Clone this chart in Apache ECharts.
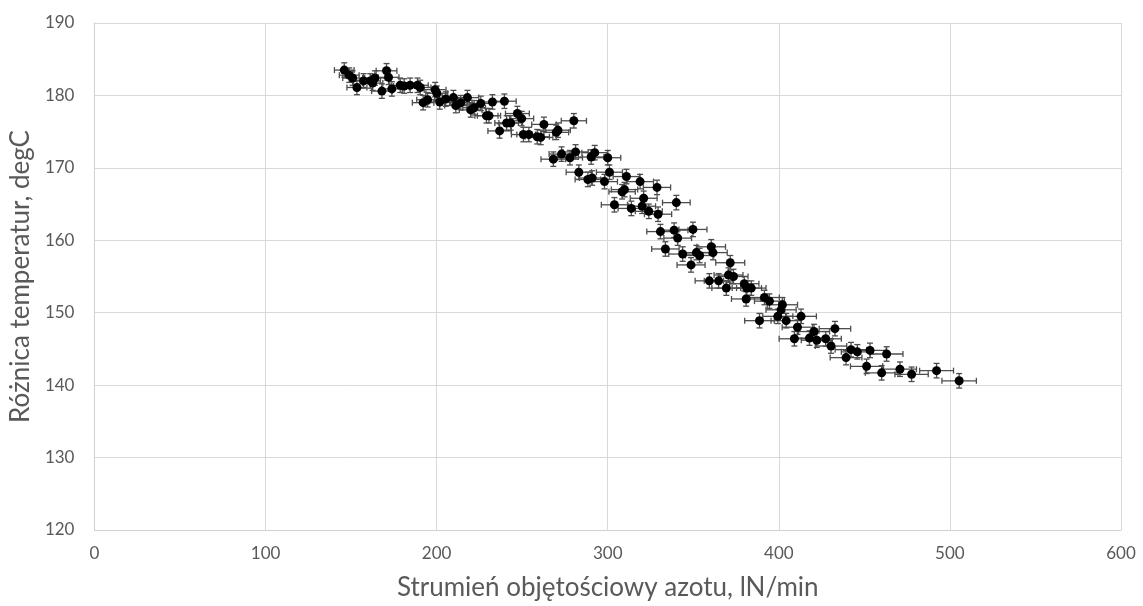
<!DOCTYPE html>
<html>
<head>
<meta charset="utf-8">
<script src="https://cdn.jsdelivr.net/npm/echarts@6/dist/echarts.min.js"></script>
<style>
  html, body { margin: 0; padding: 0; background: #ffffff; }
  #chart { width: 1143px; height: 606px; }
</style>
</head>
<body>
<div id="chart"></div>
<script>
// Nitrogen volumetric flow [lN/min]
const flow = [
  146.0, 148.9, 150.9, 153.4, 157.3, 161.2, 162.6, 163.9, 168.0, 170.7,
  171.9, 173.8, 178.7, 181.0, 184.5, 188.8, 190.4, 199.1, 200.1, 192.1,
  194.7, 201.8, 205.3, 209.8, 211.2, 214.1, 218.0, 219.9, 221.9, 225.8,
  229.1, 230.6, 232.6, 236.8, 239.6, 240.9, 243.3, 247.2, 249.7, 250.7,
  253.9, 258.8, 260.8, 262.7, 269.9, 270.9, 280.2,
  268.2, 273.0, 277.9, 281.2, 290.3, 292.4, 300.0, 283.1, 288.4, 290.9,
  298.1, 301.0, 310.9, 308.4, 309.8, 318.9, 328.8, 321.0, 303.9, 313.8,
  320.1, 324.0, 329.4, 340.1, 330.8, 338.8, 340.9, 349.8, 333.7, 343.8,
  348.7, 351.8, 353.7, 360.5, 361.5, 371.6, 359.4, 364.8, 370.6, 373.5,
  369.3, 379.8, 381.3, 383.9, 380.9, 391.6, 394.5, 402.1, 401.3, 399.4,
  404.3, 413.0, 388.7, 410.9, 420.6, 417.9, 409.1, 422.2, 427.4, 430.5,
  432.8, 442.2, 445.9, 453.3, 439.3, 463.0, 451.3, 460.1, 470.8, 477.6,
  492.2, 505.4
];

// Temperature difference [degC]
const deltaT = [
  183.5, 182.8, 182.4, 181.1, 182.0, 182.0, 181.7, 182.4, 180.6, 183.4,
  182.5, 180.9, 181.4, 181.3, 181.4, 181.4, 181.1, 180.8, 180.3, 179.0,
  179.4, 179.1, 179.5, 179.7, 178.6, 179.0, 179.7, 178.0, 178.3, 178.9,
  177.2, 177.2, 179.1, 175.1, 179.2, 176.2, 176.2, 177.5, 176.8, 174.6,
  174.6, 174.3, 174.2, 176.0, 174.9, 175.2, 176.5,
  171.2, 171.9, 171.4, 172.2, 171.5, 172.1, 171.4, 169.4, 168.4, 168.6,
  168.1, 169.4, 168.8, 166.7, 167.0, 168.1, 167.3, 165.8, 164.9, 164.4,
  164.7, 164.0, 163.6, 165.2, 161.2, 161.4, 160.3, 161.5, 158.8, 158.1,
  156.6, 158.3, 157.9, 159.1, 158.3, 156.9, 154.4, 154.4, 155.2, 155.0,
  153.4, 154.0, 153.4, 153.4, 151.9, 152.1, 151.6, 151.1, 150.4, 149.5,
  148.9, 149.5, 148.9, 148.0, 147.4, 146.5, 146.4, 146.2, 146.4, 145.4,
  147.8, 144.9, 144.6, 144.8, 143.8, 144.3, 142.6, 141.7, 142.2, 141.5,
  142.0, 140.6
];

// Axis ticks
const xTicks = [0, 100, 200, 300, 400, 500, 600];
const yTicks = [120, 130, 140, 150, 160, 170, 180, 190];

// Measurement uncertainty: flow meter (offset + share of reading), thermocouples (fixed)
const flowErrOffset = 4;
const flowErrShare = 0.012;
const tempErr = 1.0;

const points = flow.map((q, i) => [q, deltaT[i]]);
const bars = flow.map((q, i) => [q, deltaT[i], flowErrOffset + flowErrShare * q, tempErr]);

const FONT = 'Lato, "Open Sans", sans-serif';
const TEXT_COLOR = '#595959';
const BAR_COLOR = '#4d4d4d';
const CAP = 3;

function renderErrorBar(params, api) {
  const x = api.value(0), y = api.value(1), ex = api.value(2), ey = api.value(3);
  const left = api.coord([x - ex, y]);
  const right = api.coord([x + ex, y]);
  const top = api.coord([x, y + ey]);
  const bottom = api.coord([x, y - ey]);
  const style = { stroke: BAR_COLOR, lineWidth: 1.3, fill: null };
  const line = (x1, y1, x2, y2) => ({ type: 'line', shape: { x1, y1, x2, y2 }, style });
  return {
    type: 'group',
    children: [
      line(left[0], left[1], right[0], right[1]),
      line(left[0], left[1] - CAP, left[0], left[1] + CAP),
      line(right[0], right[1] - CAP, right[0], right[1] + CAP),
      line(top[0], top[1], bottom[0], bottom[1]),
      line(top[0] - CAP, top[1], top[0] + CAP, top[1]),
      line(bottom[0] - CAP, bottom[1], bottom[0] + CAP, bottom[1])
    ]
  };
}

const chart = echarts.init(document.getElementById('chart'), null, { renderer: 'canvas' });
chart.setOption({
  backgroundColor: '#ffffff',
  animation: false,
  grid: { left: 93, right: 22, top: 23, bottom: 76, containLabel: false },
  xAxis: {
    type: 'value',
    min: xTicks[0],
    max: xTicks[xTicks.length - 1],
    interval: xTicks[1] - xTicks[0],
    name: 'Strumień objętościowy azotu, lN/min',
    nameLocation: 'middle',
    nameGap: 45,
    nameTextStyle: { fontFamily: FONT, fontSize: 26, color: TEXT_COLOR },
    axisLine: { lineStyle: { color: '#d0d0d0', width: 1 } },
    axisTick: { show: false },
    axisLabel: { fontFamily: FONT, fontSize: 17, color: TEXT_COLOR, margin: 15 },
    splitLine: { show: true, lineStyle: { color: '#d9d9d9', width: 1 } }
  },
  yAxis: {
    type: 'value',
    min: yTicks[0],
    max: yTicks[yTicks.length - 1],
    interval: yTicks[1] - yTicks[0],
    name: 'Różnica temperatur, degC',
    nameLocation: 'middle',
    nameGap: 56,
    nameTextStyle: { fontFamily: FONT, fontSize: 26, color: TEXT_COLOR },
    axisLine: { show: true, lineStyle: { color: '#d0d0d0', width: 1 } },
    axisTick: { show: false },
    axisLabel: { fontFamily: FONT, fontSize: 17, color: TEXT_COLOR, margin: 20 },
    splitLine: { show: true, lineStyle: { color: '#d9d9d9', width: 1 } }
  },
  series: [
    {
      type: 'custom',
      renderItem: renderErrorBar,
      data: bars,
      encode: { x: 0, y: 1 },
      z: 2,
      silent: true
    },
    {
      type: 'scatter',
      data: points,
      symbol: 'circle',
      symbolSize: 9,
      itemStyle: { color: '#000000', opacity: 1 },
      z: 3
    }
  ]
});
</script>
</body>
</html>
